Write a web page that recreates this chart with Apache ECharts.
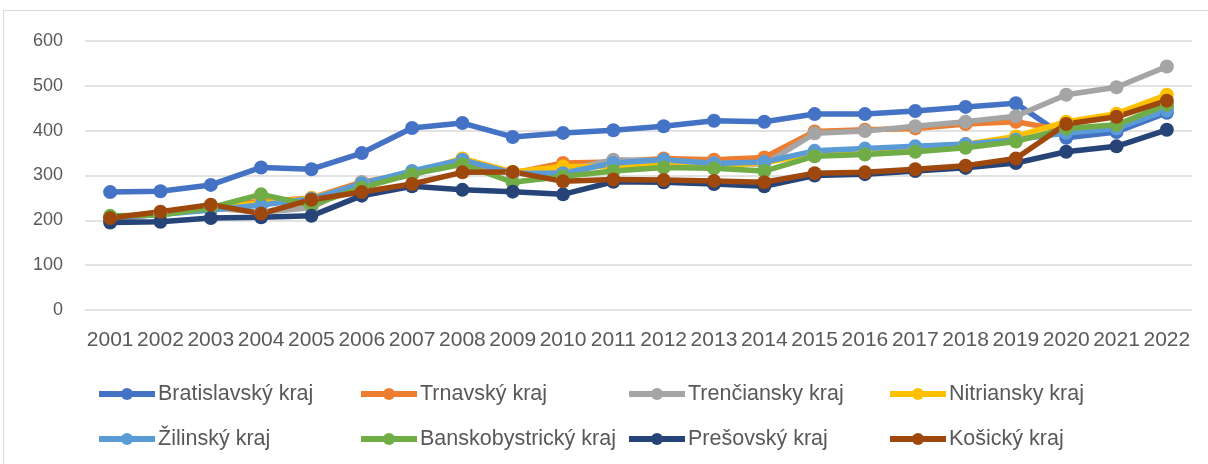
<!DOCTYPE html>
<html><head><meta charset="utf-8">
<script src="https://cdn.jsdelivr.net/npm/echarts@6/dist/echarts.min.js"></script>
<style>html,body{margin:0;padding:0;background:#fff}#frame{position:absolute;left:3px;top:10px;width:1220px;height:470px;border:1px solid #d9d9d9;box-sizing:border-box}#c{position:absolute;left:0;top:0;width:1208px;height:464px}</style>
</head><body><div id="frame"></div><div id="c"></div>
<script>
const years = ['2001','2002','2003','2004','2005','2006','2007','2008','2009','2010','2011','2012','2013','2014','2015','2016','2017','2018','2019','2020','2021','2022'];
const yTicks = [0,100,200,300,400,500,600];
const bratislavsky = [263,265,279,318,314,350,406,417,386,395,401,410,422,420,437,437,444,453,461,384,397,440];
const trnavsky = [200,215,230,242,250,285,305,330,305,328,330,338,335,340,398,402,405,415,420,400,408,452];
const trenciansky = [205,215,228,218,228,285,300,337,305,310,335,333,328,325,394,399,410,420,432,480,497,543];
const nitriansky = [205,215,230,238,250,280,305,338,308,320,320,325,322,328,350,355,362,370,387,420,438,480];
const zilinsky = [205,213,223,234,248,282,310,335,305,305,328,335,327,330,355,360,365,370,380,395,405,445];
const banskobystricky = [210,212,228,258,234,273,303,325,285,298,310,318,316,310,343,347,353,362,376,405,413,458];
const presovsky = [195,197,205,207,210,255,276,268,264,258,286,285,281,276,300,303,310,317,328,353,365,402];
const kosicky = [205,219,235,215,246,263,281,307,308,287,291,290,288,285,305,307,314,322,338,415,431,467];

const names = ['Bratislavský kraj','Trnavský kraj','Trenčiansky kraj','Nitriansky kraj','Žilinský kraj','Banskobystrický kraj','Prešovský kraj','Košický kraj'];
const values = [bratislavsky,trnavsky,trenciansky,nitriansky,zilinsky,banskobystricky,presovsky,kosicky];
const colors = ['#4472C4','#ED7D31','#A5A5A5','#FFC000','#5B9BD5','#70AD47','#264478','#9E480E'];
const font = 'Liberation Sans';
const legendPos = [[91,378],[353,378],[621,378],[882,378],[91,423],[353,423],[621,423],[882,423]];

const chart = echarts.init(document.getElementById('c'));
chart.setOption({
  animation:false,
  color:colors,
  grid:{left:85,right:16,top:41,bottom:154,containLabel:false},
  legend: names.map((n,i)=>({
    data:[n], left:legendPos[i][0], top:legendPos[i][1],
    itemWidth:56, itemHeight:15, itemGap:4,
    lineStyle:{width:6, color:colors[i]},
    textStyle:{fontFamily:font,fontSize:21.5,color:'#595959',padding:[0,0,0,-2]}
  })),
  xAxis:{type:'category',data:years,boundaryGap:true,
    axisLine:{show:false},axisTick:{show:false},
    axisLabel:{fontFamily:font,fontSize:21,color:'#595959',margin:20,interval:0}},
  yAxis:{type:'value',min:0,max:600,interval:100,
    axisLine:{show:false},axisTick:{show:false},
    axisLabel:{fontFamily:font,fontSize:18,color:'#595959',margin:22},
    splitLine:{lineStyle:{color:'#d9d9d9',width:1.5}}},
  series: names.map((n,i)=>({
    name:n,type:'line',data:values[i],
    symbol:'circle',symbolSize:14,
    lineStyle:{width:5.5,color:colors[i]},
    itemStyle:{color:colors[i]}
  }))
});
</script></body></html>
